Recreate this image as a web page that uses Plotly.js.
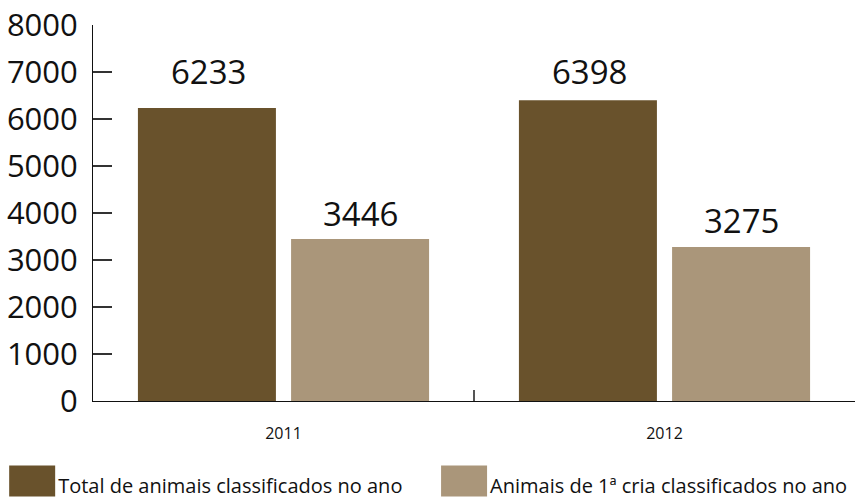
<!DOCTYPE html>
<html>
<head>
<meta charset="utf-8">
<script src="https://cdn.plot.ly/plotly-3.0.1.min.js"></script>
<style>html,body{margin:0;padding:0;background:#fff;}#chart{width:857px;height:498px;}</style>
</head>
<body>
<div id="chart"></div>
<script>
const categories = ["2011", "2012"];
const seriesNames = ["Total de animais classificados no ano", "Animais de 1ª cria classificados no ano"];
const totalValues = [6233, 6398];
const firstCalfValues = [3446, 3275];
const yTicks = [0, 1000, 2000, 3000, 4000, 5000, 6000, 7000, 8000];

const colors = ["#69522c", "#aa967a"];
const FONT = "Open Sans, sans-serif";
// label placement (pixels above each bar), styling only
const labelShift = [[12, 4], [1, 2]];

const traces = [
  {type: "bar", name: seriesNames[0], x: categories, y: totalValues, marker: {color: colors[0]}, hoverinfo: "y", legend: "legend"},
  {type: "bar", name: seriesNames[1], x: categories, y: firstCalfValues, marker: {color: colors[1]}, hoverinfo: "y", legend: "legend2"}
];

const annotations = [];
[totalValues, firstCalfValues].forEach((vals, si) => {
  vals.forEach((v, i) => {
    annotations.push({
      x: i, y: v, xref: "x", yref: "y",
      text: String(v), showarrow: false,
      xanchor: "center", yanchor: "bottom",
      xshift: si === 0 ? -75 : 77, yshift: labelShift[si][i],
      font: {family: FONT, size: 33, color: "#111"}
    });
  });
});

const legendBase = {
  orientation: "h", xanchor: "left", y: -0.225, yanchor: "middle",
  font: {family: FONT, size: 20, color: "#111"}, bgcolor: "rgba(0,0,0,0)"
};

const layout = {
  width: 857, height: 498,
  margin: {l: 93, r: 2, t: 25, b: 97, autoexpand: false},
  paper_bgcolor: "#fff", plot_bgcolor: "#fff",
  barmode: "group", bargap: 0.196, bargroupgap: 0.099,
  font: {family: FONT, color: "#111"},
  xaxis: {
    type: "category", range: [-0.5, 1.5], tickson: "boundaries", ticks: "inside", ticklen: 11, tickwidth: 1.5, tickcolor: "#555",
    showline: true, linecolor: "#111", linewidth: 1, showgrid: false, zeroline: false,
    tickfont: {family: FONT, size: 16, color: "#111"}, ticklabelstandoff: 18, tickangle: 0
  },
  yaxis: {
    range: [0, 8000], tickvals: yTicks, ticks: "inside", ticklen: 19, tickwidth: 1.5, tickcolor: "#333",
    showline: true, linecolor: "#111", linewidth: 1, showgrid: false, zeroline: false,
    tickfont: {family: FONT, size: 31, color: "#111"}, ticklabelstandoff: 8
  },
  showlegend: true,
  legend: Object.assign({}, legendBase, {x: -0.0982}),
  legend2: Object.assign({}, legendBase, {x: 0.4686}),
  annotations: annotations
};

Plotly.newPlot("chart", traces, layout, {displayModeBar: false, staticPlot: true}).then(() => {
  document.querySelectorAll("#chart .legend, #chart .legend2").forEach(lg => {
    lg.querySelectorAll("[clip-path]").forEach(el => el.removeAttribute("clip-path"));
    lg.querySelectorAll(".legendpoints path").forEach(p => {
      // enlarge the legend swatch to match the reference's wide rectangles
      p.setAttribute("d", "M17,11H-29V-20H17Z");
    });
  });
});
</script>
</body>
</html>
